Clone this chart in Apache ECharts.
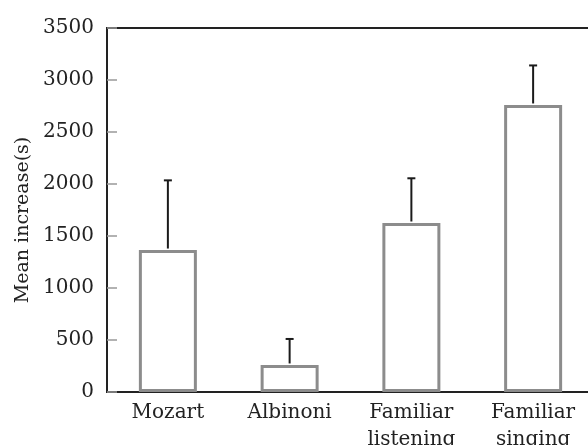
<!DOCTYPE html>
<html>
<head>
<meta charset="utf-8">
<script src="https://cdn.jsdelivr.net/npm/echarts@6/dist/echarts.min.js"></script>
<style>
  html, body { margin: 0; padding: 0; background: #fff; }
  #chart { width: 588px; height: 445px; }
</style>
</head>
<body>
<div id="chart"></div>
<script>
const categories = ['Mozart', 'Albinoni', 'Familiar\nlistening', 'Familiar\nsinging']
const meanValues = [1365, 260, 1625, 2760]
const upperValues = [2035, 510, 2055, 3140]
const yTicks = [0, 500, 1000, 1500, 2000, 2500, 3000, 3500]

const font = 'DejaVu Serif'
const chart = echarts.init(document.getElementById('chart'))

const errorData = categories.map((c, i) => [i, meanValues[i], upperValues[i]])

chart.setOption({
  backgroundColor: '#fff',
  animation: false,
  grid: {
    left: 107,
    right: -6,
    top: 28,
    bottom: 53,
    outerBoundsMode: 'none',
    containLabel: false,
    show: true,
    borderColor: '#222',
    borderWidth: 2
  },
  xAxis: {
    type: 'category',
    data: categories,
    axisLine: { lineStyle: { color: '#222', width: 2 } },
    axisTick: { show: false },
    axisLabel: {
      fontFamily: font,
      fontSize: 20,
      lineHeight: 27,
      color: '#222',
      margin: 7
    }
  },
  yAxis: {
    type: 'value',
    min: yTicks[0],
    max: yTicks[yTicks.length - 1],
    interval: 500,
    name: 'Mean increase(s)',
    nameLocation: 'middle',
    nameRotate: 90,
    nameGap: 70,
    nameTextStyle: {
      fontFamily: font,
      fontSize: 19,
      color: '#222',
      padding: [0, 20, 0, 0]
    },
    axisLine: { show: true, lineStyle: { color: '#222', width: 2 } },
    axisTick: { show: true, inside: true, length: 10, lineStyle: { color: '#999', width: 1.5 } },
    splitLine: { show: false },
    axisLabel: {
      fontFamily: font,
      fontSize: 20,
      color: '#222',
      margin: 13,
      padding: [0, 0, 8, 0],
      formatter: function (v) { return String(v) }
    }
  },
  series: [
    {
      type: 'bar',
      data: meanValues,
      barWidth: 58,
      itemStyle: {
        color: '#fff',
        borderColor: '#8c8c8c',
        borderWidth: 3
      },
      z: 2
    },
    {
      type: 'custom',
      data: errorData,
      z: 3,
      renderItem: function (params, api) {
        const idx = api.value(0)
        const low = api.coord([idx, api.value(1)])
        const high = api.coord([idx, api.value(2)])
        const style = { stroke: '#1a1a1a', lineWidth: 2 }
        return {
          type: 'group',
          children: [
            { type: 'line', shape: { x1: low[0], y1: low[1] - 1.5, x2: high[0], y2: high[1] }, style: style },
            { type: 'line', shape: { x1: high[0] - 4, y1: high[1], x2: high[0] + 4, y2: high[1] }, style: style }
          ]
        }
      }
    }
  ]
})
</script>
</body>
</html>
